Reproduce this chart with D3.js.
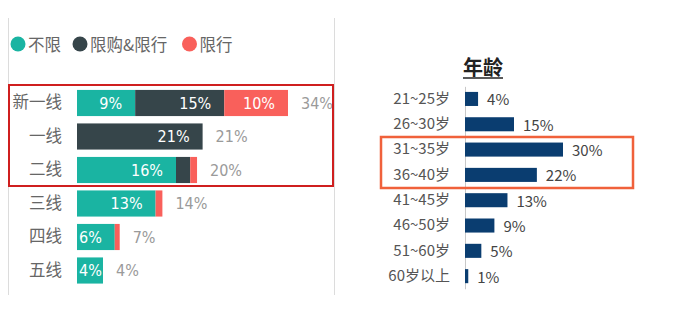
<!DOCTYPE html>
<html>
<head>
<meta charset="utf-8">
<script src="https://cdn.jsdelivr.net/npm/d3@7"></script>
<style>
  body { margin: 0; background: #fff; }
  svg { display: block; }
</style>
</head>
<body>
<div id="chart"></div>
<script>
// city tier chart (left)
const tiers = ["新一线", "一线", "二线", "三线", "四线", "五线"];
const seriesNames = ["不限", "限购&限行", "限行"];
const noLimit = [9.4, 0, 16.0, 12.7, 6.1, 4.2];
const buyAndDrive = [14.4, 20.3, 2.3, 0, 0, 0];
const driveOnly = [10.3, 0, 1.1, 1.1, 0.8, 0];
const noLimitLabels = ["9%", "", "16%", "13%", "6%", "4%"];
const buyAndDriveLabels = ["15%", "21%", "", "", "", ""];
const driveOnlyLabels = ["10%", "", "", "", "", ""];
const totalLabels = ["34%", "21%", "20%", "14%", "7%", "4%"];

// age chart (right)
const ages = ["21~25岁", "26~30岁", "31~35岁", "36~40岁", "41~45岁", "46~50岁", "51~60岁", "60岁以上"];
const agePct = [4, 15, 30, 22, 13, 9, 5, 1];

const width = 689;
const height = 314;
const colors = ["#1ab4a2", "#36454a", "#f9605b"];
const numFont = "'DejaVu Sans Condensed', 'Noto Sans CJK SC', sans-serif";
const cjkFont = "'Noto Sans CJK SC', sans-serif";

const svg = d3.select("#chart")
              .append("svg")
              .attr("width", width)
              .attr("height", height);

// ---- left panel ----
// thin side borders
svg.append("line").attr("x1", 8.5).attr("x2", 8.5).attr("y1", 18).attr("y2", 295)
   .attr("stroke", "#dcdcdc").attr("stroke-width", 1);
svg.append("line").attr("x1", 334.5).attr("x2", 334.5).attr("y1", 18).attr("y2", 295)
   .attr("stroke", "#dcdcdc").attr("stroke-width", 1);

// legend
const legendX = [18, 80, 189.5];
seriesNames.forEach((name, i) => {
    svg.append("circle").attr("cx", legendX[i]).attr("cy", 44).attr("r", 7.5).attr("fill", colors[i]);
    svg.append("text")
       .attr("x", legendX[i] + 10).attr("y", 44)
       .attr("dominant-baseline", "central")
       .attr("font-family", cjkFont).attr("font-size", "16.5px")
       .attr("fill", "#666")
       .text(name);
});

const rows = tiers.map((t, i) => ({
    tier: t,
    noLimit: noLimit[i],
    buyAndDrive: buyAndDrive[i],
    driveOnly: driveOnly[i]
}));
const keys = ["noLimit", "buyAndDrive", "driveOnly"];
const segLabels = [noLimitLabels, buyAndDriveLabels, driveOnlyLabels];
const stacked = d3.stack().keys(keys)(rows);

const xL = d3.scaleLinear().domain([0, 34.1]).range([77, 288]);
const yL = d3.scaleBand().domain(tiers).range([86.25, 287.25]).paddingInner(0.22).paddingOuter(0.11);

const yAxisL = d3.axisLeft(yL).tickSize(0).tickPadding(15);
const gL = svg.append("g")
   .attr("transform", "translate(" + xL(0) + ",0)")
   .call(yAxisL);
gL.select(".domain").remove();
gL.selectAll("text")
  .attr("font-family", cjkFont).attr("font-size", "16.5px").attr("fill", "#666");

stacked.forEach((layer, k) => {
    svg.append("g").selectAll("rect")
       .data(layer)
       .enter()
       .append("rect")
       .attr("x", (d) => xL(d[0]))
       .attr("y", (d, i) => yL(tiers[i]))
       .attr("width", (d) => xL(d[1]) - xL(d[0]))
       .attr("height", yL.bandwidth())
       .attr("fill", colors[k]);
});

// white labels inside segments, right aligned
stacked.forEach((layer, k) => {
    layer.forEach((d, i) => {
        const lbl = segLabels[k][i];
        if (!lbl) return;
        const t = svg.append("text")
           .attr("y", yL(tiers[i]) + yL.bandwidth() / 2)
           .attr("dominant-baseline", "central")
           .attr("text-anchor", "end")
           .attr("font-family", numFont).attr("font-size", "16px")
           .attr("fill", "#fff")
           .text(lbl);
        const w = t.node().getComputedTextLength();
        const xEnd = Math.max(xL(d[1]) - 13, xL(d[0]) + 2 + w);
        t.attr("x", xEnd);
    });
});

// totals
const lastLayer = stacked[stacked.length - 1];
svg.append("g").selectAll("text")
   .data(lastLayer)
   .enter()
   .append("text")
   .attr("x", (d) => xL(d[1]) + 13)
   .attr("y", (d, i) => yL(tiers[i]) + yL.bandwidth() / 2)
   .attr("dominant-baseline", "central")
   .attr("font-family", numFont).attr("font-size", "16px")
   .attr("fill", "#9a9a9a")
   .text((d, i) => totalLabels[i]);

// red highlight box
svg.append("rect")
   .attr("x", 9).attr("y", 85).attr("width", 324).attr("height", 101)
   .attr("fill", "none").attr("stroke", "#cf1f1f").attr("stroke-width", 2);

// ---- right panel ----
const xR = d3.scaleLinear().domain([0, 30]).range([465, 563]);
const yR = d3.scaleBand().domain(ages).range([86.35, 288.75]).paddingInner(0.445).paddingOuter(0.22);

svg.append("text")
   .attr("x", 483).attr("y", 75)
   .attr("text-anchor", "middle")
   .attr("font-family", cjkFont).attr("font-size", "20px").attr("font-weight", "bold")
   .attr("fill", "#222")
   .text("年龄");
svg.append("line").attr("x1", 463).attr("x2", 503).attr("y1", 78).attr("y2", 78)
   .attr("stroke", "#222").attr("stroke-width", 1.5);

const yAxisR = d3.axisLeft(yR).tickSize(0).tickPadding(15);
const gR = svg.append("g")
   .attr("transform", "translate(" + xR(0) + ",0)")
   .call(yAxisR);
gR.select(".domain").attr("stroke", "#c8c8c8");
gR.selectAll("text")
  .attr("font-family", cjkFont).attr("font-size", "15px").attr("fill", "#555");

svg.append("g").selectAll("rect")
   .data(agePct)
   .enter()
   .append("rect")
   .attr("x", xR(0))
   .attr("y", (d, i) => yR(ages[i]))
   .attr("width", (d) => xR(d) - xR(0))
   .attr("height", yR.bandwidth())
   .attr("fill", "#0a3d70");

svg.append("g").selectAll("text")
   .data(agePct)
   .enter()
   .append("text")
   .attr("x", (d) => xR(d) + 9)
   .attr("y", (d, i) => yR(ages[i]) + yR.bandwidth() / 2)
   .attr("dominant-baseline", "central")
   .attr("font-family", cjkFont).attr("font-size", "15px")
   .attr("fill", "#444")
   .text((d) => d + "%");

// orange highlight box
svg.append("rect")
   .attr("x", 381).attr("y", 137).attr("width", 252).attr("height", 51)
   .attr("fill", "none").attr("stroke", "#f0613b").attr("stroke-width", 2.5);
</script>
</body>
</html>
